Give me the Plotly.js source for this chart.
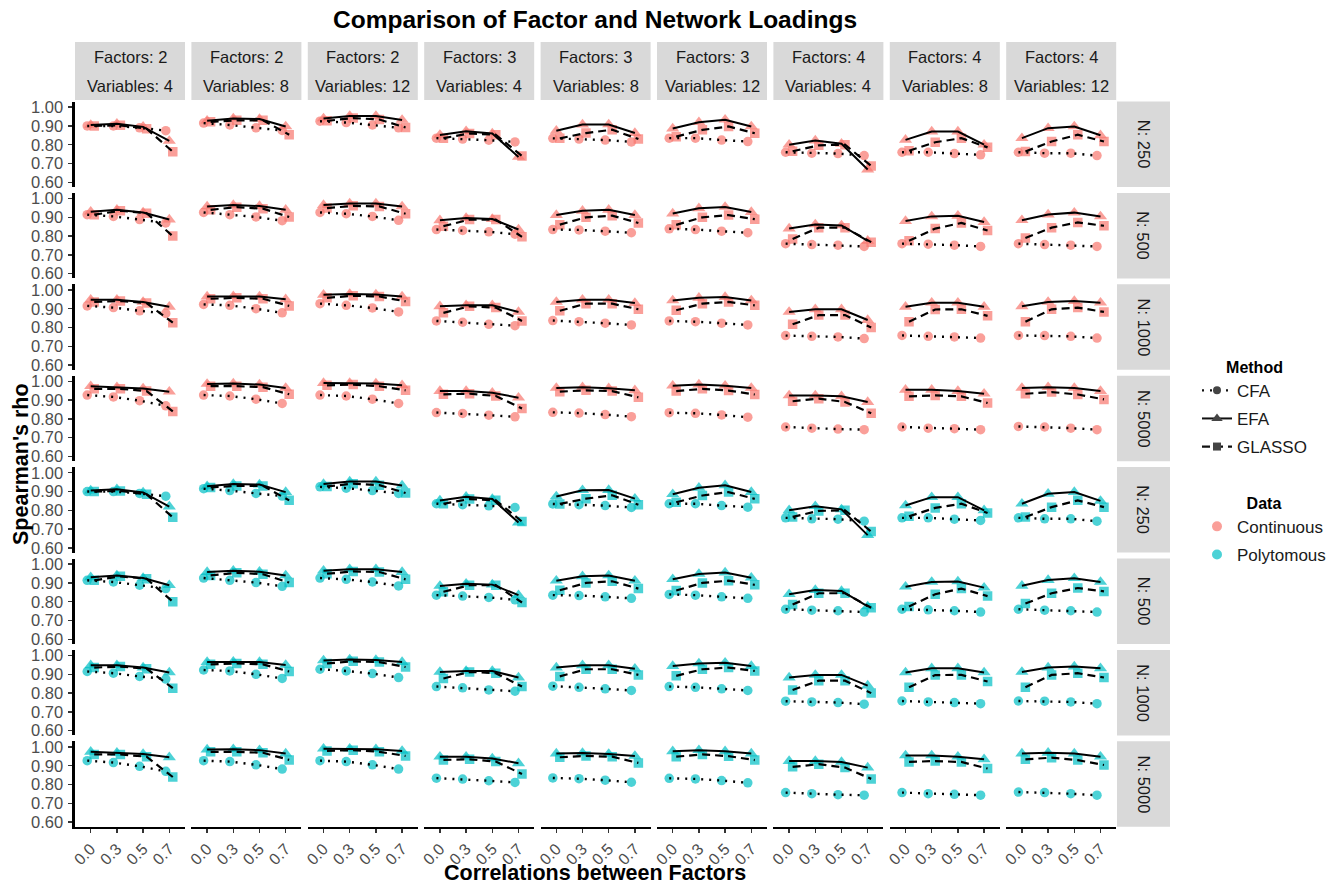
<!DOCTYPE html>
<html><head><meta charset="utf-8">
<script src="https://cdn.plot.ly/plotly-3.0.1.min.js"></script>
<style>body{margin:0;background:#fff}#chart{width:1338px;height:887px}</style>
</head><body><div id="chart"></div>
<script>
// ---------------- DATA ----------------
const corrLabels = ["0.0", "0.3", "0.5", "0.7"];
const factorLabels = ["Factors: 2","Factors: 2","Factors: 2","Factors: 3","Factors: 3","Factors: 3","Factors: 4","Factors: 4","Factors: 4"];
const variableLabels = ["Variables: 4","Variables: 8","Variables: 12","Variables: 4","Variables: 8","Variables: 12","Variables: 4","Variables: 8","Variables: 12"];
const sampleLabels = ["N: 250", "N: 500", "N: 1000", "N: 5000"];
const dataTypes = ["Continuous", "Polytomous"];
const methodNames = ["CFA", "EFA", "GLASSO"];

// Spearman's rho, one array of 4 values (corr 0.0,0.3,0.5,0.7) per facet column
const cfaN250 = [[0.900,0.900,0.890,0.875],[0.915,0.905,0.890,0.876],[0.925,0.918,0.905,0.890],[0.835,0.830,0.824,0.815],[0.834,0.830,0.825,0.815],[0.835,0.835,0.825,0.817],[0.760,0.755,0.753,0.742],[0.760,0.760,0.753,0.746],[0.760,0.755,0.755,0.742]];
const efaN250 = [[0.905,0.912,0.895,0.820],[0.928,0.940,0.937,0.897],[0.940,0.953,0.953,0.932],[0.852,0.872,0.860,0.735],[0.874,0.907,0.908,0.862],[0.886,0.920,0.933,0.897],[0.800,0.822,0.805,0.668],[0.826,0.870,0.870,0.800],[0.835,0.888,0.897,0.850]];
const glassoN250 = [[0.900,0.903,0.885,0.763],[0.922,0.930,0.930,0.853],[0.927,0.942,0.934,0.892],[0.835,0.860,0.853,0.740],[0.834,0.862,0.880,0.830],[0.843,0.879,0.897,0.861],[0.765,0.797,0.800,0.687],[0.768,0.813,0.835,0.786],[0.764,0.817,0.853,0.817]];

const cfaN500 = [[0.914,0.905,0.888,0.870],[0.926,0.914,0.902,0.882],[0.926,0.919,0.905,0.884],[0.835,0.830,0.823,0.810],[0.835,0.833,0.826,0.818],[0.839,0.835,0.826,0.818],[0.760,0.755,0.752,0.745],[0.760,0.757,0.752,0.745],[0.760,0.755,0.752,0.745]];
const efaN500 = [[0.930,0.940,0.926,0.888],[0.958,0.965,0.960,0.940],[0.965,0.973,0.973,0.958],[0.884,0.896,0.891,0.835],[0.912,0.935,0.940,0.912],[0.920,0.948,0.955,0.928],[0.840,0.862,0.857,0.775],[0.880,0.905,0.908,0.875],[0.885,0.915,0.925,0.905]];
const glassoN500 = [[0.914,0.935,0.922,0.800],[0.940,0.954,0.946,0.902],[0.949,0.961,0.958,0.919],[0.853,0.888,0.888,0.796],[0.861,0.900,0.909,0.870],[0.860,0.900,0.912,0.890],[0.785,0.845,0.845,0.768],[0.775,0.840,0.870,0.830],[0.790,0.845,0.873,0.855]];

const cfaN1000 = [[0.915,0.906,0.889,0.875],[0.923,0.918,0.900,0.878],[0.927,0.918,0.904,0.883],[0.835,0.828,0.817,0.810],[0.837,0.831,0.823,0.814],[0.835,0.831,0.823,0.814],[0.757,0.753,0.750,0.741],[0.758,0.753,0.750,0.744],[0.758,0.757,0.753,0.744]];
const efaN1000 = [[0.948,0.948,0.936,0.910],[0.965,0.967,0.965,0.950],[0.974,0.979,0.976,0.965],[0.913,0.918,0.918,0.883],[0.936,0.948,0.948,0.930],[0.944,0.958,0.962,0.944],[0.883,0.897,0.897,0.840],[0.910,0.932,0.932,0.910],[0.913,0.936,0.941,0.932]];
const glassoN1000 = [[0.936,0.941,0.930,0.826],[0.953,0.958,0.953,0.915],[0.958,0.969,0.965,0.939],[0.878,0.913,0.906,0.835],[0.889,0.927,0.927,0.897],[0.892,0.927,0.936,0.918],[0.817,0.866,0.866,0.800],[0.831,0.896,0.897,0.862],[0.831,0.897,0.906,0.883]];

const cfaN5000 = [[0.927,0.917,0.897,0.870],[0.927,0.922,0.905,0.882],[0.927,0.922,0.905,0.882],[0.834,0.829,0.820,0.811],[0.835,0.831,0.823,0.812],[0.833,0.830,0.821,0.809],[0.757,0.751,0.746,0.743],[0.757,0.751,0.748,0.743],[0.760,0.757,0.751,0.743]];
const efaN5000 = [[0.974,0.969,0.962,0.945],[0.986,0.988,0.983,0.965],[0.991,0.991,0.988,0.979],[0.948,0.948,0.939,0.913],[0.965,0.968,0.963,0.952],[0.977,0.983,0.977,0.965],[0.925,0.925,0.920,0.890],[0.955,0.955,0.948,0.934],[0.965,0.969,0.965,0.948]];
const glassoN5000 = [[0.960,0.960,0.948,0.840],[0.974,0.974,0.969,0.931],[0.979,0.983,0.974,0.952],[0.931,0.934,0.922,0.856],[0.945,0.952,0.948,0.915],[0.948,0.960,0.951,0.930],[0.894,0.908,0.890,0.830],[0.920,0.925,0.920,0.885],[0.934,0.943,0.930,0.904]];

const continuousRows = [[cfaN250,efaN250,glassoN250],[cfaN500,efaN500,glassoN500],[cfaN1000,efaN1000,glassoN1000],[cfaN5000,efaN5000,glassoN5000]];
const polytomousRows = [[cfaN250,efaN250,glassoN250],[cfaN500,efaN500,glassoN500],[cfaN1000,efaN1000,glassoN1000],[cfaN5000,efaN5000,glassoN5000]];

// ---------------- STYLE / LAYOUT ----------------
const W = 1338, H = 887;
const FONT = '"Liberation Sans", Arial, sans-serif';
const colLeft0 = 75, colStep = 116.4, colW = 110;
const rowTop0 = 101.5, rowStep = 91.4, rowH = 85.5;
const dataColors = {Continuous: '#F8766D', Polytomous: '#00BFC4'};
const methodStyle = {
  CFA: {symbol: 'circle', size: 9.5, dash: '2px,6px', width: 2.4},
  EFA: {symbol: 'triangle-up', size: 11.5, dash: 'solid', width: 2},
  GLASSO: {symbol: 'square', size: 9.5, dash: '8px,5px', width: 2.2}
};

const traces = [];
const layout = {
  width: W, height: H, margin: {l: 0, r: 0, t: 0, b: 0},
  paper_bgcolor: '#fff', plot_bgcolor: '#fff',
  font: {family: FONT, color: '#1A1A1A'},
  scattermode: 'group', scattergap: 0.6,
  showlegend: true, shapes: [], annotations: []
};

const px2x = p => p / W;
const px2y = p => 1 - p / H;
function label(xp, yp, text, size, color, angle) {
  const a = {xref: 'paper', yref: 'paper', x: px2x(xp), y: px2y(yp), xanchor: 'center', yanchor: 'middle',
    text: text, showarrow: false, font: {size: size, color: color, family: FONT}};
  if (angle) a.textangle = angle;
  layout.annotations.push(a);
}

let idx = 0;
const allRows = [continuousRows, polytomousRows];
for (let d = 0; d < 2; d++) {
  for (let n = 0; n < 4; n++) {
    const row = d * 4 + n;
    const top = rowTop0 + row * rowStep;
    for (let c = 0; c < 9; c++) {
      idx++;
      const sfx = idx === 1 ? '' : String(idx);
      const left = colLeft0 + c * colStep;
      const isBottom = row === 7, isLeft = c === 0;
      layout['xaxis' + sfx] = {
        domain: [px2x(left), px2x(left + colW)], anchor: 'y' + sfx,
        type: 'category', categoryorder: 'array', categoryarray: corrLabels,
        range: [-0.6, 3.6], showgrid: false, zeroline: false,
        showline: isBottom, linecolor: '#000', linewidth: 2.6,
        showticklabels: isBottom, tickangle: -45,
        ticks: isBottom ? 'outside' : '', ticklen: 4, tickwidth: 1.5, tickcolor: '#333',
        tickfont: {size: 16, color: '#4D4D4D', family: FONT}, fixedrange: true
      };
      layout['yaxis' + sfx] = {
        domain: [px2y(top + rowH), px2y(top)], anchor: 'x' + sfx,
        range: [0.575, 1.03], tickvals: [0.6, 0.7, 0.8, 0.9, 1.0],
        ticktext: ["0.60", "0.70", "0.80", "0.90", "1.00"],
        showgrid: false, zeroline: false,
        showline: isLeft, linecolor: '#000', linewidth: 2.6,
        showticklabels: isLeft, ticks: isLeft ? 'outside' : '', ticklen: 4, tickwidth: 1.5, tickcolor: '#333',
        ticklabelstandoff: 2,
        tickfont: {size: 16.5, color: '#4D4D4D', family: FONT}, fixedrange: true
      };
      const color = dataColors[dataTypes[d]];
      const series = allRows[d][n];
      methodNames.forEach((m, k) => {
        traces.push({
          type: 'scatter', mode: 'markers', x: corrLabels, y: series[k][c],
          xaxis: 'x' + sfx, yaxis: 'y' + sfx, offsetgroup: m, showlegend: false,
          marker: {symbol: methodStyle[m].symbol, size: methodStyle[m].size, color: color, opacity: 0.7, line: {width: 0}},
          hoverinfo: 'skip'
        });
      });
      methodNames.forEach((m, k) => {
        traces.push({
          type: 'scatter', mode: 'lines', x: corrLabels, y: series[k][c],
          xaxis: 'x' + sfx, yaxis: 'y' + sfx, offsetgroup: m, showlegend: false,
          line: {color: '#000', width: methodStyle[m].width, dash: methodStyle[m].dash},
          hoverinfo: 'skip'
        });
      });
      if (c === 8) {
        layout.shapes.push({type: 'rect', xref: 'paper', yref: 'paper', x0: px2x(1117), x1: px2x(1170),
          y0: px2y(top + rowH), y1: px2y(top), fillcolor: '#D9D9D9', line: {width: 0}, layer: 'below'});
        label(1143.5, top + rowH / 2, sampleLabels[n], 16.5, '#1A1A1A', 90);
      }
    }
  }
}
for (let c = 0; c < 9; c++) {
  const left = colLeft0 + c * colStep;
  layout.shapes.push({type: 'rect', xref: 'paper', yref: 'paper', x0: px2x(left), x1: px2x(left + colW),
    y0: px2y(100), y1: px2y(42), fillcolor: '#D9D9D9', line: {width: 0}, layer: 'below'});
  label(left + colW / 2, 57, factorLabels[c], 16.5, '#1A1A1A');
  label(left + colW / 2, 86, variableLabels[c], 16.5, '#1A1A1A');
}
label(595, 20, '<b>Comparison of Factor and Network Loadings</b>', 24.5, '#000');
label(595, 873, '<b>Correlations between Factors</b>', 21.5, '#000');
label(21, 464, "<b>Spearman's rho</b>", 21.5, '#000', -90);

layout.xaxis73 = {visible: false, domain: [0.995, 1], anchor: 'y73', fixedrange: true};
layout.yaxis73 = {visible: false, domain: [0.995, 1], anchor: 'x73', fixedrange: true};
methodNames.forEach(m => {
  traces.push({type: 'scatter', mode: 'lines+markers', x: [null], y: [null], xaxis: 'x73', yaxis: 'y73',
    name: m, legend: 'legend', legendgroup: m, showlegend: true,
    line: {color: '#111', width: methodStyle[m].width, dash: methodStyle[m].dash},
    marker: {symbol: methodStyle[m].symbol, size: methodStyle[m].size - 1.5, color: '#444'}});
});
dataTypes.forEach(dt => {
  traces.push({type: 'scatter', mode: 'markers', x: [null], y: [null], xaxis: 'x73', yaxis: 'y73',
    name: dt, legend: 'legend2', legendgroup: dt, showlegend: true,
    marker: {symbol: 'circle', size: 10, color: dataColors[dt], opacity: 0.7}});
});
layout.legend = {x: px2x(1197), y: px2y(352), xanchor: 'left', yanchor: 'top', bgcolor: 'rgba(0,0,0,0)',
  title: {text: '<b>Method</b>', side: 'top center', font: {size: 16, color: '#000', family: FONT}},
  font: {size: 17, color: '#1A1A1A', family: FONT}, tracegroupgap: 3, itemclick: false, itemdoubleclick: false};
layout.legend2 = {x: px2x(1197), y: px2y(488), xanchor: 'left', yanchor: 'top', bgcolor: 'rgba(0,0,0,0)',
  title: {text: '<b>Data</b>', side: 'top center', font: {size: 16, color: '#000', family: FONT}},
  font: {size: 17, color: '#1A1A1A', family: FONT}, tracegroupgap: 3, itemclick: false, itemdoubleclick: false};

Plotly.newPlot('chart', traces, layout, {staticPlot: true, displayModeBar: false});
</script>
</body></html>
